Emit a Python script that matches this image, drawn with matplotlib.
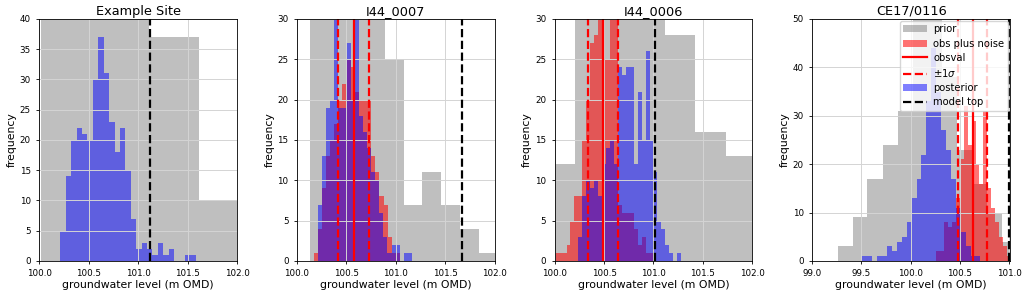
import numpy as np
import matplotlib
matplotlib.use("Agg")
import matplotlib.pyplot as plt

# ---- data ----
titles = ["Example Site", "I44_0007", "I44_0006", "CE17/0116"]

# prior histograms (bin edges, counts)
prior_edges = [
    [100.02, 100.57, 101.11, 101.62, 102.13],
    [100.13, 100.32, 100.51, 100.70, 100.89, 101.08, 101.27, 101.46, 101.65, 101.84, 102.03],
    [99.91, 100.21, 100.515, 100.82, 101.12, 101.42, 101.73, 102.03],
    [99.26, 99.41, 99.56, 99.72, 99.87, 100.02, 100.17, 100.32, 100.47, 100.62, 100.78, 100.93, 101.08],
]
prior_counts = [
    [120, 133, 37, 10],
    [40, 52, 58, 38, 25, 7, 11, 7, 4, 1],
    [12, 45, 60, 42, 28, 16, 13],
    [3, 9, 17, 24, 31, 56, 58, 38, 23, 16, 10, 4],
]

# obs plus noise histograms: first edge, bin width, counts (None = no obs)
obs_start = [None, 100.17, 100.00, 100.26]
obs_width = [None, 0.0415, 0.04, 0.04]
obs_counts = [
    None,
    [1, 4, 9, 13, 15, 17, 20, 22, 25, 24, 21, 20, 20, 20, 13, 11, 8, 7, 3, 1, 1],
    [1, 1, 1, 2, 5, 8, 8, 15, 20, 27, 28, 34, 25, 25, 33, 30, 7, 6, 6, 6, 4, 2, 3, 1, 1],
    [2, 2, 8, 7, 8, 13, 21, 32, 24, 29, 20, 16, 31, 15, 11, 8, 5, 3, 1],
]
obsval = [None, 100.575, 100.49, 100.63]
obs_sigma = [None, 0.155, 0.153, 0.15]

# posterior histograms
post_start = [100.213, 100.21, 100.24, 99.51]
post_width = [0.0548, 0.0415, 0.04, 0.05]
post_counts = [
    [5, 14, 20, 22, 21, 20, 30, 37, 31, 23, 18, 22, 15, 7, 2, 3, 2, 1, 3, 1, 2, 0, 0, 1, 1],
    [7, 13, 19, 20, 33, 19, 19, 27, 20, 32, 18, 16, 14, 11, 10, 6, 3, 1, 2, 2, 0, 1, 1],
    [3, 8, 10, 9, 10, 8, 12, 14, 15, 12, 24, 23, 24, 24, 12, 21, 15, 26, 15, 11, 5, 4, 2, 1, 0, 1],
    [1, 1, 0, 1, 1, 3, 2, 4, 5, 8, 13, 17, 22, 33, 44, 35, 27, 23, 17, 11, 6, 3, 1, 1],
]

model_top = [101.12, 101.67, 101.02, 101.0]
xlims = [(100.0, 102.0), (100.0, 102.0), (100.0, 102.0), (99.0, 101.01)]
ylims = [40, 30, 30, 50]
xticks = [
    [100.0, 100.5, 101.0, 101.5, 102.0],
    [100.0, 100.5, 101.0, 101.5, 102.0],
    [100.0, 100.5, 101.0, 101.5, 102.0],
    [99.0, 99.5, 100.0, 100.5, 101.0],
]


def edges_from(start, width, counts):
    return start + width * np.arange(len(counts) + 1)


fig, axes = plt.subplots(1, 4, figsize=(10.24, 2.95), dpi=100)
fig.subplots_adjust(left=0.0384, right=0.9863, bottom=0.1153, top=0.9356, wspace=0.3036)

for i, ax in enumerate(axes):
    pe = np.array(prior_edges[i])
    ax.hist(pe[:-1], bins=pe, weights=prior_counts[i], color="grey", alpha=0.5, label="prior")
    if obs_counts[i] is not None:
        oe = edges_from(obs_start[i], obs_width[i], obs_counts[i])
        ax.hist(oe[:-1], bins=oe, weights=obs_counts[i], color="red", alpha=0.55,
                label="obs plus noise")
        ax.axvline(obsval[i], color="red", lw=1.6, label="obsval")
        ax.axvline(obsval[i] - obs_sigma[i], color="red", lw=1.6, ls="--", label=r"$\pm1\sigma$")
        ax.axvline(obsval[i] + obs_sigma[i], color="red", lw=1.6, ls="--")
    pe2 = edges_from(post_start[i], post_width[i], post_counts[i])
    ax.hist(pe2[:-1], bins=pe2, weights=post_counts[i], color="blue", alpha=0.5, label="posterior")
    ax.axvline(model_top[i], color="k", lw=1.6, ls="--", label="model top")

    ax.set_xlim(*xlims[i])
    ax.set_ylim(0, ylims[i])
    ax.set_xticks(xticks[i])
    ax.set_xticklabels([f"{t:.1f}" for t in xticks[i]])
    ax.grid(True, color="#d4d4d4", lw=0.7)
    ax.tick_params(labelsize=6.3, length=2.5, width=0.6)
    for sp in ax.spines.values():
        sp.set_linewidth(0.6)
    ax.set_title(titles[i], fontsize=9.3, pad=3)
    ax.set_xlabel("groundwater level (m OMD)", fontsize=7.8, labelpad=1)
    ax.set_ylabel("frequency", fontsize=7.8, labelpad=2)

axes[3].legend(loc="upper right", fontsize=7.2, handlelength=2.4, borderpad=0.35,
               labelspacing=0.42, borderaxespad=0.2, handletextpad=0.6)

fig.savefig("out.png", dpi=100)
